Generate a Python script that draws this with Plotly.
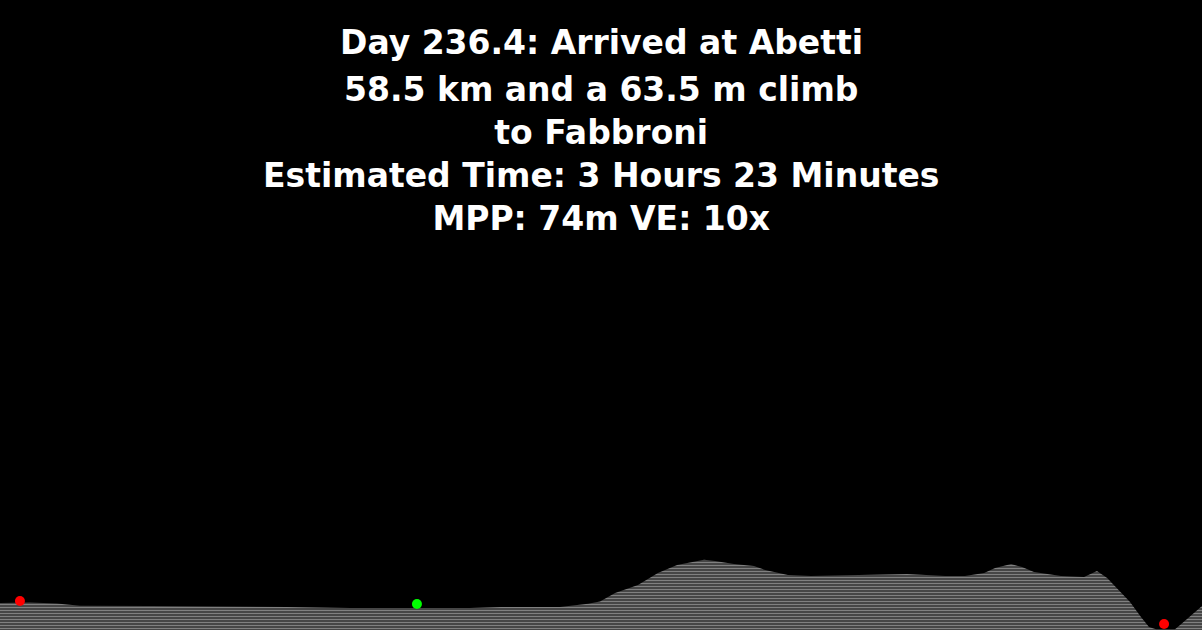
import plotly.graph_objects as go

# Perfil del terreno (distancia en km, elevación en m)
dist_km = [-1.02, 0.51, 1.89, 3.07, 6.65, 10.74, 13.65, 16.87, 20.30, 23.01,
           24.60, 27.61, 29.05, 29.66, 30.43, 31.60, 32.62, 33.60, 34.98, 35.54,
           36.51, 37.53, 38.10, 39.27, 40.45, 41.93, 43.41, 45.36, 47.30, 48.32,
           49.30, 49.86, 50.68, 51.24, 51.85, 53.23, 54.41, 55.07, 55.59, 56.15,
           56.76, 57.32, 57.73, 58.09, 58.50, 59.06, 59.32, 60.29, 60.44]
elev_m = [200, 204, 196, 180, 178, 176, 170, 163, 162, 163,
          170, 171, 195, 210, 274, 333, 422, 481, 520, 511,
          488, 474, 444, 407, 400, 403, 407, 414, 400, 400,
          422, 459, 488, 466, 429, 400, 392, 437, 385, 296,
          207, 96, 22, 5, 5, 5, 37, 163, 178]

# Puntos marcados: salida, posición actual, destino
stop_km = [0.0, 20.3, 58.5]
stop_elev = [214, 192, 44]
stop_colors = ["#ff0000", "#00ff00", "#ff0000"]

headline = "Day 236.4: Arrived at Abetti"
detail_lines = [
    "58.5 km and a 63.5 m climb",
    "to Fabbroni",
    "Estimated Time: 3 Hours 23 Minutes",
    "MPP: 74m VE: 10x",
]

fig = go.Figure()

fig.add_trace(go.Scatter(
    x=dist_km, y=elev_m,
    mode="lines",
    line=dict(width=0, color="white"),
    fill="tozeroy",
    fillcolor="black",
    fillpattern=dict(shape="-", fgcolor="white", bgcolor="black",
                     size=3, solidity=0.7),
    hoverinfo="skip",
    showlegend=False,
))

fig.add_trace(go.Scatter(
    x=stop_km, y=stop_elev,
    mode="markers",
    marker=dict(size=10, color=stop_colors),
    showlegend=False,
))

title_font = dict(family="DejaVu Sans", size=33, color="white", weight="bold")

fig.add_annotation(
    text=headline, xref="paper", yref="paper",
    x=0.5, y=1, xanchor="center", yanchor="top", yshift=-21,
    showarrow=False, font=title_font,
)
fig.add_annotation(
    text="<br>".join(detail_lines), xref="paper", yref="paper",
    x=0.5, y=1, xanchor="center", yanchor="top", yshift=-68,
    showarrow=False, font=title_font,
)

fig.update_layout(
    width=1202,
    height=630,
    paper_bgcolor="black",
    plot_bgcolor="black",
    margin=dict(l=0, r=0, t=0, b=0),
    xaxis=dict(visible=False, range=[dist_km[0], dist_km[-1]]),
    yaxis=dict(visible=False, range=[0, 4662]),
)

fig.write_html(
    "out.html",
    config={"displayModeBar": False},
    post_script="document.body.style.margin='0';document.body.style.background='black';",
)
